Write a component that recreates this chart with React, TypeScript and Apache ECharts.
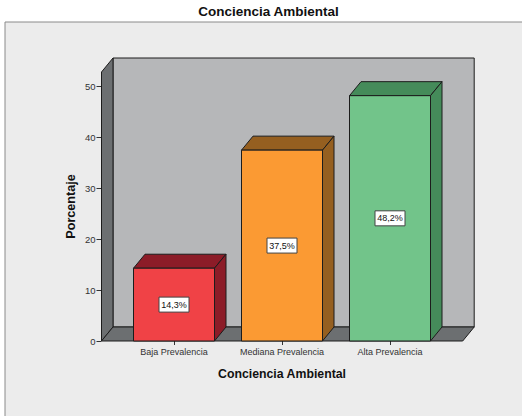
import React, { useEffect, useRef } from "react";
import * as echarts from "echarts";

const title = "Conciencia Ambiental";
const xName = "Conciencia Ambiental";
const yName = "Porcentaje";
const categories = ["Baja Prevalencia", "Mediana Prevalencia", "Alta Prevalencia"];
const values = [14.3, 37.5, 48.2];
const yTicks = [0, 10, 20, 30, 40, 50];
const yAxisTop = 52.85;
const frontColors = ["#F04246", "#FB9A33", "#72C48A"];
const darkColors = ["#8C1C28", "#955F20", "#458B5A"];

const DX = 11.5;
const DY = 14;
const PAD_L = 18.5;
const PAD_R = 18.7;
const LINE = "#1c1c1c";
const F = "'Liberation Sans', Arial, sans-serif";

export default function App() {
  const ref = useRef<HTMLDivElement>(null);
  useEffect(() => {
    const chart = echarts.init(ref.current!, null, { renderer: "svg" });
    chart.setOption({
      animation: false,
      backgroundColor: "#ffffff",
      title: {
        text: title,
        left: 268.5,
        top: 4,
        padding: 0,
        textAlign: "center",
        textStyle: { fontFamily: F, fontSize: 13.5, fontWeight: "bold", color: "#111" },
      },
      graphic: [
        {
          type: "rect",
          z: -1,
          shape: { x: 5, y: 22, width: 530, height: 410 },
          style: { fill: "#ECECEC", stroke: "#8a8a8a", lineWidth: 1 },
        },
      ],
      grid: { left: 120, top: 72, width: 324, height: 269 },
      xAxis: {
        type: "category",
        data: categories,
        name: xName,
        nameLocation: "middle",
        nameGap: 27,
        nameTextStyle: { fontFamily: F, fontSize: 12.3, fontWeight: "bold", color: "#111" },
        axisLine: { show: false },
        axisTick: { show: true, alignWithLabel: true, length: 4, lineStyle: { color: "#333" } },
        axisLabel: { fontFamily: F, fontSize: 9, color: "#333", margin: 6, interval: 0 },
        splitLine: { show: false },
      },
      yAxis: {
        type: "value",
        min: 0,
        max: yAxisTop,
        offset: PAD_L,
        name: yName,
        nameLocation: "middle",
        nameGap: 24,
        nameMoveOverlap: false,
        nameTextStyle: { fontFamily: F, fontSize: 12.6, fontWeight: "bold", color: "#111" },
        axisLine: { show: false },
        axisTick: { show: true, length: 5, lineStyle: { color: "#333" }, customValues: yTicks },
        axisLabel: { fontFamily: F, fontSize: 9.5, color: "#333", margin: 6, customValues: yTicks },
        splitLine: { show: false },
      },
      series: [
        {
          type: "custom",
          clip: false,
          silent: true,
          z: 1,
          data: [[0, yAxisTop]],
          renderItem: (params: any, api: any) => {
            const base = api.coord([0, 0]);
            const top = api.coord([0, api.value(1)]);
            const cs = params.coordSys;
            const l = cs.x - PAD_L;
            const r = cs.x + cs.width + PAD_R;
            const y0 = base[1];
            const y1 = top[1];
            const st = (fill: string) => ({ fill, stroke: LINE, lineWidth: 1 });
            return {
              type: "group",
              children: [
                { type: "rect", shape: { x: l + DX, y: y1 - DY, width: r - l, height: y0 - y1 }, style: { ...st("#B6B7B9") } },
                { type: "polygon", shape: { points: [[l, y0], [l + DX, y0 - DY], [l + DX, y1 - DY], [l, y1]] }, style: st("#6C6F71") },
                { type: "polygon", shape: { points: [[l, y0], [r, y0], [r + DX, y0 - DY], [l + DX, y0 - DY]] }, style: st("#6C6F71") },
              ],
            };
          },
        },
        {
          type: "custom",
          clip: false,
          silent: true,
          z: 3,
          data: values.map((v, i) => [i, v]),
          encode: { x: 0, y: 1 },
          renderItem: (params: any, api: any) => {
            const i = api.value(0);
            const v = api.value(1);
            const [cx, yTop] = api.coord([i, v]);
            const [, yBase] = api.coord([i, 0]);
            const w = api.size([1, 0])[0] * 0.75;
            const x0 = cx - w / 2;
            const x1 = cx + w / 2;
            const st = (fill: string) => ({ fill, stroke: LINE, lineWidth: 1 });
            const text = String(v).replace(".", ",") + "%";
            const my = (yTop + yBase) / 2;
            return {
              type: "group",
              children: [
                { type: "polygon", shape: { points: [[x0, yTop], [x1, yTop], [x1 + DX, yTop - DY], [x0 + DX, yTop - DY]] }, style: st(darkColors[i]) },
                { type: "polygon", shape: { points: [[x1, yTop], [x1 + DX, yTop - DY], [x1 + DX, yBase - DY], [x1, yBase]] }, style: st(darkColors[i]) },
                { type: "rect", shape: { x: x0, y: yTop, width: w, height: yBase - yTop }, style: st(frontColors[i]) },
                { type: "rect", shape: { x: cx - 15, y: my - 7.5, width: 30, height: 15 }, style: { fill: "#fff", stroke: "#444", lineWidth: 1 } },
                { type: "text", style: { text, x: cx, y: my, align: "center", verticalAlign: "middle", fill: "#111", font: `9px ${F}` } },
              ],
            };
          },
        },
      ],
    });
    return () => chart.dispose();
  }, []);
  return <div ref={ref} style={{ position: "fixed", left: 0, top: 0, width: 522, height: 416 }} />;
}
